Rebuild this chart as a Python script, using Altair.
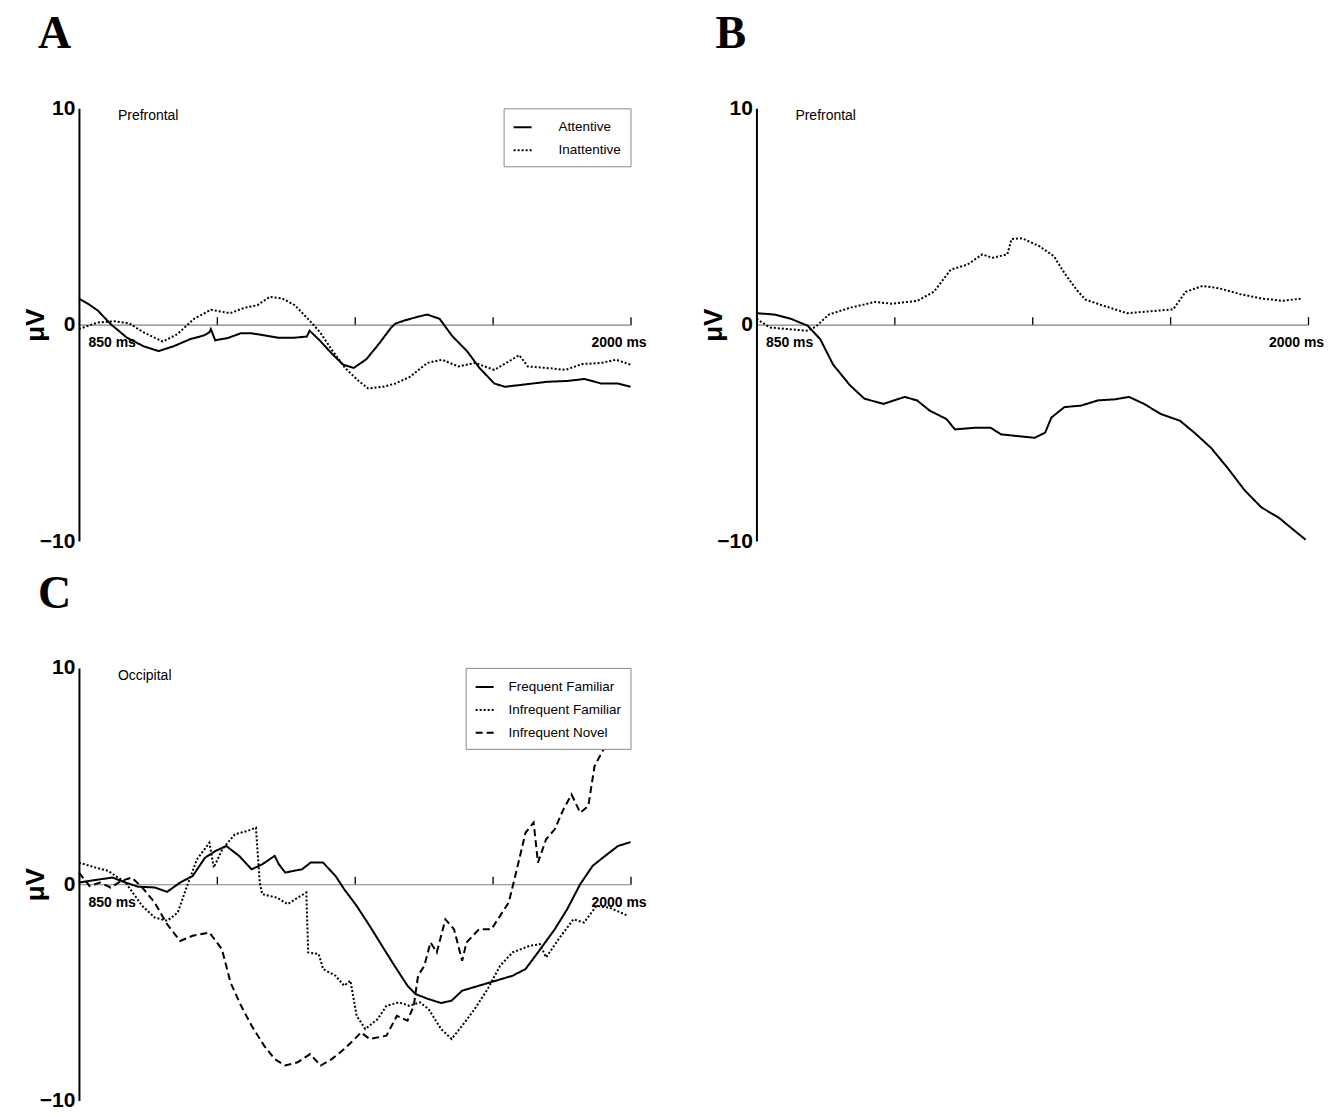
import altair as alt
import pandas as pd

# ---------------- data ----------------
# Panel A (Prefrontal)
a_att_t = [850, 870, 889, 916, 950, 985, 1016, 1047, 1082, 1110, 1122, 1125, 1134, 1160, 1187, 1210, 1230, 1265, 1300, 1325, 1331, 1353, 1379, 1401, 1423, 1449, 1475, 1501, 1510, 1528, 1554, 1576, 1602, 1628, 1659, 1685, 1716, 1738, 1781, 1825, 1869, 1904, 1939, 1974, 2000]
a_att_v = [1.2, 0.95, 0.66, 0.03, -0.6, -1.0, -1.22, -1.0, -0.67, -0.5, -0.35, -0.2, -0.72, -0.62, -0.4, -0.4, -0.47, -0.6, -0.6, -0.55, -0.28, -0.75, -1.38, -1.85, -2.0, -1.6, -0.9, -0.13, 0.05, 0.19, 0.35, 0.47, 0.27, -0.52, -1.22, -2.0, -2.72, -2.87, -2.76, -2.64, -2.6, -2.51, -2.72, -2.72, -2.87]
a_ina_t = [850, 889, 924, 955, 985, 1025, 1055, 1090, 1125, 1165, 1195, 1222, 1248, 1274, 1300, 1331, 1353, 1379, 1405, 1431, 1453, 1484, 1510, 1541, 1576, 1607, 1641, 1676, 1716, 1746, 1768, 1786, 1825, 1864, 1899, 1939, 1970, 2000]
a_ina_v = [-0.2, 0.1, 0.16, 0.06, -0.36, -0.78, -0.44, 0.27, 0.69, 0.53, 0.78, 0.9, 1.29, 1.21, 0.9, 0.19, -0.36, -1.22, -2.0, -2.56, -2.95, -2.87, -2.72, -2.4, -1.77, -1.62, -1.93, -1.77, -2.09, -1.7, -1.41, -1.93, -2.0, -2.09, -1.82, -1.77, -1.62, -1.85]

# Panel B (Prefrontal)
b_att_t = [850, 887, 922, 957, 983, 1010, 1045, 1075, 1115, 1159, 1185, 1211, 1246, 1264, 1308, 1338, 1360, 1395, 1430, 1452, 1465, 1492, 1527, 1562, 1597, 1627, 1658, 1693, 1733, 1763, 1798, 1833, 1868, 1903, 1939, 1969, 1995]
b_att_v = [0.53, 0.47, 0.27, -0.05, -0.67, -1.85, -2.8, -3.42, -3.66, -3.34, -3.5, -3.97, -4.36, -4.84, -4.76, -4.76, -5.07, -5.15, -5.23, -4.99, -4.29, -3.81, -3.74, -3.5, -3.45, -3.34, -3.66, -4.13, -4.44, -4.99, -5.7, -6.64, -7.66, -8.45, -8.92, -9.47, -9.94]
b_ina_t = [850, 878, 913, 957, 974, 1001, 1045, 1097, 1132, 1185, 1220, 1255, 1290, 1321, 1342, 1373, 1382, 1404, 1439, 1470, 1492, 1518, 1536, 1570, 1623, 1667, 1719, 1745, 1780, 1815, 1859, 1903, 1947, 1987]
b_ina_v = [0.27, -0.13, -0.2, -0.28, -0.09, 0.47, 0.78, 1.05, 0.97, 1.1, 1.52, 2.54, 2.78, 3.25, 3.09, 3.25, 3.96, 3.99, 3.64, 3.17, 2.39, 1.6, 1.16, 0.9, 0.53, 0.61, 0.71, 1.52, 1.79, 1.68, 1.41, 1.21, 1.1, 1.21]

# Panel C (Occipital)
c_ff_t = [850, 885, 920, 947, 973, 1008, 1034, 1061, 1087, 1113, 1135, 1157, 1184, 1210, 1232, 1258, 1267, 1280, 1298, 1315, 1333, 1359, 1385, 1403, 1429, 1456, 1482, 1508, 1535, 1552, 1579, 1605, 1627, 1649, 1684, 1719, 1754, 1781, 1807, 1842, 1868, 1895, 1921, 1947, 1974, 2000]
c_ff_v = [0.08, 0.2, 0.31, 0.08, -0.11, -0.15, -0.35, 0.08, 0.38, 1.23, 1.54, 1.77, 1.31, 0.69, 0.92, 1.31, 0.92, 0.54, 0.62, 0.69, 1.0, 1.0, 0.38, -0.23, -1.0, -1.92, -2.85, -3.77, -4.69, -5.08, -5.31, -5.49, -5.38, -4.92, -4.69, -4.46, -4.23, -3.92, -3.15, -2.08, -1.15, 0.0, 0.85, 1.31, 1.77, 1.95]
c_if_t = [850, 885, 911, 947, 982, 1008, 1034, 1056, 1078, 1096, 1122, 1131, 1149, 1175, 1201, 1219, 1227, 1232, 1263, 1285, 1306, 1324, 1328, 1350, 1359, 1385, 1403, 1416, 1429, 1447, 1473, 1491, 1517, 1539, 1561, 1579, 1605, 1627, 1649, 1675, 1702, 1728, 1754, 1789, 1811, 1824, 1850, 1881, 1903, 1929, 1956, 1995]
c_if_v = [1.0, 0.77, 0.62, 0.08, -1.0, -1.54, -1.69, -1.31, 0.08, 1.15, 1.92, 0.77, 1.62, 2.31, 2.46, 2.62, 0.08, -0.46, -0.62, -0.92, -0.62, -0.38, -3.15, -3.23, -3.92, -4.23, -4.69, -4.46, -6.08, -6.69, -6.23, -5.62, -5.46, -5.62, -5.46, -5.77, -6.69, -7.15, -6.54, -5.77, -4.85, -3.77, -3.15, -2.85, -2.77, -3.38, -2.54, -1.62, -1.77, -1.0, -1.08, -1.46]
c_in_t = [850, 872, 894, 916, 938, 960, 982, 1008, 1034, 1061, 1087, 1122, 1148, 1166, 1188, 1210, 1236, 1258, 1280, 1306, 1332, 1354, 1377, 1403, 1425, 1438, 1456, 1491, 1513, 1535, 1548, 1557, 1570, 1583, 1596, 1614, 1632, 1649, 1658, 1684, 1710, 1728, 1746, 1763, 1781, 1798, 1807, 1824, 1842, 1860, 1877, 1895, 1912, 1925, 1947, 1962]
c_in_v = [0.54, -0.08, 0.08, -0.15, 0.15, 0.31, -0.15, -0.85, -1.85, -2.62, -2.38, -2.23, -3.0, -4.54, -5.62, -6.54, -7.46, -8.08, -8.38, -8.23, -7.85, -8.38, -8.08, -7.62, -7.15, -6.85, -7.15, -7.0, -6.08, -6.31, -5.62, -4.23, -3.77, -2.69, -3.15, -1.62, -2.08, -3.54, -2.69, -2.08, -2.08, -1.46, -0.85, 0.69, 2.38, 2.85, 1.0, 2.08, 2.54, 3.46, 4.15, 3.31, 3.62, 5.46, 6.38, 7.2]

x_ticks = [850, 1137.5, 1425, 1712.5, 2000]
x_tick_labels = ["850 ms", "", "", "", "2000 ms"]
y_ticks = [-10, 0, 10]
panel_letters = ["A", "B", "C"]
panel_regions = ["Prefrontal", "Prefrontal", "Occipital"]
ab_series = ["Attentive", "Inattentive"]
c_series = ["Frequent Familiar", "Infrequent Familiar", "Infrequent Novel"]


def frame(pairs):
    rows = []
    for name, ts, vs in pairs:
        for t, v in zip(ts, vs):
            rows.append({"t": t, "v": v, "cond": name})
    return pd.DataFrame(rows)


df_a = frame([("Attentive", a_att_t, a_att_v), ("Inattentive", a_ina_t, a_ina_v)])
df_b = frame([("Attentive", b_att_t, b_att_v), ("Inattentive", b_ina_t, b_ina_v)])
df_c = frame([("Frequent Familiar", c_ff_t, c_ff_v), ("Infrequent Familiar", c_if_t, c_if_v),
              ("Infrequent Novel", c_in_t, c_in_v)])

W, H = 552, 433
SANS = "Liberation Sans"

label_expr = " : ".join(
    f"datum.value == {t} ? '{lab}'" for t, lab in zip(x_ticks, x_tick_labels) if lab
) + " : ''"

xscale = alt.Scale(domain=[850, 2000], nice=False, zero=False)
yscale = alt.Scale(domain=[-10, 10], nice=False, zero=False)

top_axis = alt.Axis(orient="top", offset=-H / 2, values=x_ticks, labels=False, ticks=True,
                    tickSize=8, tickColor="black", tickWidth=1.3, domainColor="#808080",
                    domainWidth=1.2, grid=False, title=None)
bottom_axis = alt.Axis(orient="bottom", offset=-H / 2, values=[x_ticks[0], x_ticks[-1]],
                       labelExpr=label_expr, ticks=False, domain=False, grid=False, title=None,
                       labelFont=SANS, labelFontSize=14, labelFontWeight="bold", labelColor="black",
                       labelPadding=11,
                       labelAlign={"condition": {"test": f"datum.value <= {x_ticks[0]}", "value": "left"},
                                   "value": "center"},
                       labelOffset={"condition": {"test": f"datum.value <= {x_ticks[0]}", "value": 9},
                                    "value": -12})
y_axis = alt.Axis(values=y_ticks, ticks=False, grid=False, domainColor="black", domainWidth=2,
                  labelFont=SANS, labelFontSize=21, labelFontWeight="bold", labelColor="black",
                  labelPadding=4, title="μV", titleFont=SANS, titleFontSize=26,
                  titleFontWeight="bold", titleColor="black", titleX=-30, titleY=H / 2,
                  titleAngle=-90, titleBaseline="bottom")


def panel(df, order, dashes, letter, region, show_legend):
    legend = alt.Legend(title=None, orient="top-right", offset=0, fillColor="white",
                        strokeColor="#8a8a8a", padding=9, symbolType="stroke",
                        symbolStrokeColor="black", symbolStrokeWidth=2, symbolSize=324,
                        labelFont=SANS, labelFontSize=13.5, labelColor="black",
                        labelOffset=26 if len(order) == 2 else 14, rowPadding=6) if show_legend else None
    lines = alt.Chart(df).mark_line(color="black", strokeWidth=2).encode(
        x=alt.X("t:Q", scale=xscale, axis=top_axis),
        y=alt.Y("v:Q", scale=yscale, axis=y_axis),
        strokeDash=alt.StrokeDash("cond:N", scale=alt.Scale(domain=order, range=dashes),
                                  legend=legend, sort=order),
        order="t:Q",
    )
    labels = alt.Chart(pd.DataFrame({"t": [x_ticks[0], x_ticks[-1]]})).mark_point(opacity=0).encode(
        x=alt.X("t:Q", scale=xscale, axis=bottom_axis),
    )
    region_txt = alt.Chart(pd.DataFrame({"region": [region]})).mark_text(
        align="left", baseline="middle", font=SANS, fontSize=14, color="black"
    ).encode(x=alt.value(39), y=alt.value(8), text="region:N")
    return alt.layer(lines, labels, region_txt).resolve_axis(x="independent").properties(
        width=W, height=H,
        title=alt.TitleParams(letter, anchor="start", frame="group", dx=-41, offset=39,
                              font="Liberation Serif", fontSize=46, fontWeight="bold", color="black"),
    )


dash_ab = [[1, 0], [2, 2]]
dash_c = [[1, 0], [2, 2], [7, 4]]

pa = panel(df_a, ab_series, dash_ab, panel_letters[0], panel_regions[0], True)
pb = panel(df_b, ab_series, dash_ab, panel_letters[1], panel_regions[1], False)
pc = panel(df_c, c_series, dash_c, panel_letters[2], panel_regions[2], True)

chart = alt.concat(pa, pb, pc, columns=2, spacing={"row": 127, "column": 126}, bounds="flush").resolve_scale(
    strokeDash="independent"
).properties(padding={"left": 15, "top": 3, "right": 5, "bottom": 5}).configure_view(stroke=None)

chart.save("out.html", embed_options={"renderer": "svg", "actions": False})
